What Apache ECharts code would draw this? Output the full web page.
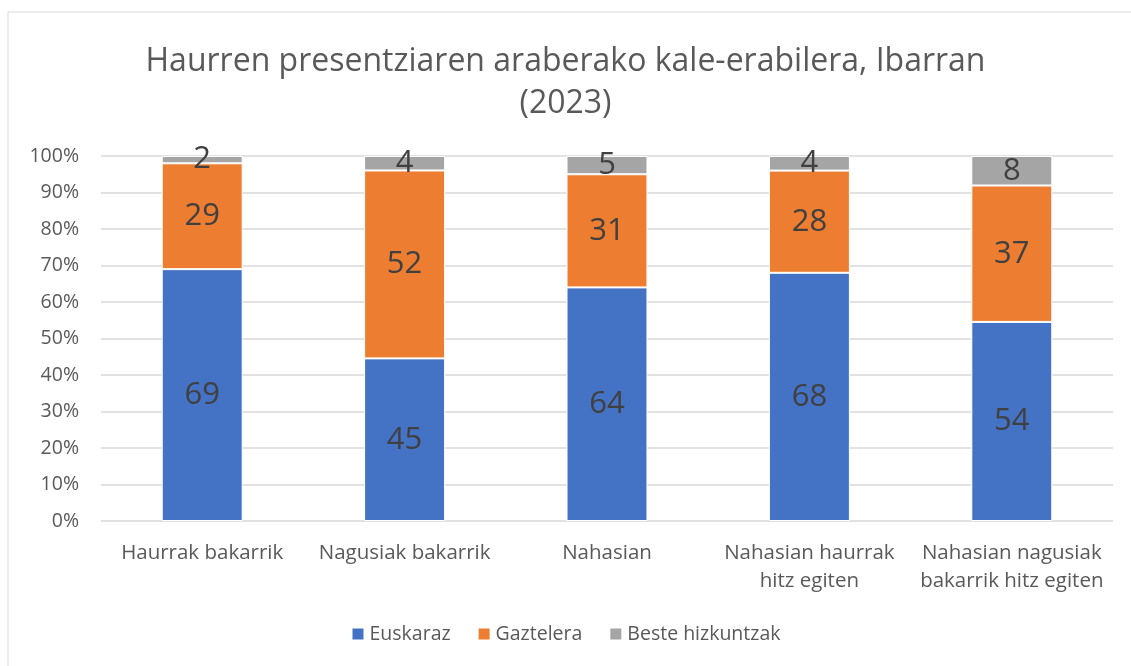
<!DOCTYPE html>
<html>
<head>
<meta charset="utf-8">
<script src="https://cdn.jsdelivr.net/npm/echarts@6/dist/echarts.min.js"></script>
<style>
  html, body { margin: 0; padding: 0; background: #fff; }
  #chart { width: 1131px; height: 666px; }
</style>
</head>
<body>
<div id="chart"></div>
<script>
// data
const categories = ['Haurrak bakarrik', 'Nagusiak bakarrik', 'Nahasian', 'Nahasian haurrak\nhitz egiten', 'Nahasian nagusiak\nbakarrik hitz egiten'];
const euskaraz = [69, 45, 64, 68, 54];
const gaztelera = [29, 52, 31, 28, 37];
const beste = [2, 4, 5, 4, 8];
const yTicks = [0, 10, 20, 30, 40, 50, 60, 70, 80, 90, 100];

const font = '"Open Sans", "Noto Sans", sans-serif';

// 100% stacked: each bar is scaled by its own total, labels keep the rounded value
const totals = euskaraz.map((v, i) => v + gaztelera[i] + beste[i]);
const share = (arr) => arr.map((v, i) => ({ value: v / totals[i] * 100, raw: v }));

const makeSeries = (name, arr, color) => ({
  name: name,
  type: 'bar',
  stack: 'total',
  barWidth: '40%',
  data: share(arr),
  itemStyle: { color: color, borderColor: '#fff', borderWidth: 1 },
  label: {
    show: true,
    position: 'inside',
    fontFamily: font,
    fontSize: 31,
    color: '#404040',
    formatter: (p) => p.data.raw
  }
});

const myChart = echarts.init(document.getElementById('chart'));
const option = {
  animation: false,
  textStyle: { fontFamily: font },
  title: {
    text: 'Haurren presentziaren araberako kale-erabilera, Ibarran\n(2023)',
    left: 'center',
    top: 36,
    textStyle: {
      fontFamily: font,
      fontSize: 32,
      fontWeight: 'normal',
      color: '#595959',
      lineHeight: 42
    }
  },
  legend: {
    bottom: 17,
    left: 'center',
    itemWidth: 13,
    itemHeight: 13,
    itemGap: 26,
    icon: 'rect',
    textStyle: { fontFamily: font, fontSize: 19.5, color: '#595959' },
    data: ['Euskaraz', 'Gaztelera', 'Beste hizkuntzak']
  },
  grid: { left: 101, right: 18, top: 156, bottom: 145 },
  xAxis: {
    type: 'category',
    data: categories,
    axisLine: { show: false },
    axisTick: { show: false },
    axisLabel: {
      fontFamily: font,
      fontSize: 20.5,
      color: '#595959',
      lineHeight: 28,
      margin: 18,
      interval: 0
    }
  },
  yAxis: {
    type: 'value',
    min: yTicks[0],
    max: yTicks[yTicks.length - 1],
    interval: 10,
    axisLine: { show: false },
    axisTick: { show: false },
    splitLine: { lineStyle: { color: '#d9d9d9', width: 1.5 } },
    axisLabel: {
      fontFamily: font,
      fontSize: 19.5,
      color: '#595959',
      margin: 22,
      formatter: '{value}%'
    }
  },
  graphic: [{
    type: 'rect',
    shape: { x: 8, y: 12, width: 1200, height: 700 },
    style: { fill: 'none', stroke: '#d9d9d9', lineWidth: 1 },
    silent: true
  }],
  series: [
    makeSeries('Euskaraz', euskaraz, '#4472c4'),
    makeSeries('Gaztelera', gaztelera, '#ed7d31'),
    makeSeries('Beste hizkuntzak', beste, '#a5a5a5')
  ]
};
myChart.setOption(option);
window.addEventListener('resize', myChart.resize);
</script>
</body>
</html>
